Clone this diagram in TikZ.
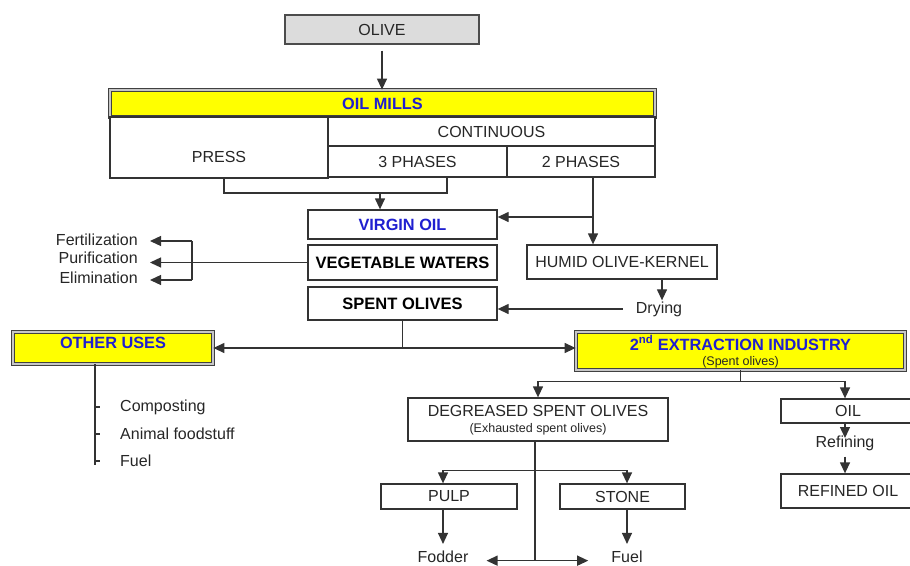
\documentclass[tikz,border=0pt]{standalone}
\usepackage{fontspec}
\setmainfont{Liberation Sans}
\usetikzlibrary{arrows.meta,calc}
\definecolor{ink}{HTML}{333333}
\definecolor{blu}{HTML}{1F1FD0}
\definecolor{yel}{HTML}{FFFF00}
\definecolor{olv}{HTML}{DCDCDC}
\begin{document}
\begin{tikzpicture}[x=1pt,y=-1pt,
  every node/.style={font=\fontsize{16}{18}\selectfont, text=black!85},
  box/.style={draw=ink, line width=1.3pt, inner sep=0pt, fill=white},
  ybox/.style={draw=black!75, line width=0.8pt, double=gray!45, double distance=1.8pt, fill=yel, inner sep=0pt},
  bl/.style={font=\fontsize{16.3}{18}\selectfont\bfseries, text=blu},
  bk/.style={font=\fontsize{16.5}{18}\selectfont\bfseries, text=black},
  small/.style={font=\fontsize{12.5}{14}\selectfont, text=black!85},
  txt/.style={inner sep=1pt},
  ln/.style={draw=ink, line width=1.3pt},
  arr/.style={ln, -{Triangle[length=11pt,width=10pt]}},
  arr2/.style={ln, {Triangle[length=11pt,width=10pt]}-{Triangle[length=11pt,width=10pt]}},
]
\useasboundingbox (0,0) rectangle (910,565);
\clip (0,0) rectangle (910,565);

% top
\node[box, fill=olv, draw=gray!60!black, minimum width=194pt, minimum height=29pt] (olive) at (382,29.5) {OLIVE};
\node[ybox, bl, minimum width=545pt, minimum height=27pt] (mills) at (382.5,103.5) {OIL MILLS};
\node[box, minimum width=218pt, minimum height=61pt] (press) at (219,147.5) {};
\node[txt] (presst) at (219,157) {PRESS};
\node[box, minimum width=327pt, minimum height=29pt] (cont) at (491.5,131.5) {CONTINUOUS};
\node[box, minimum width=179pt, minimum height=31pt] (three) at (417.5,161.5) {3 PHASES};
\node[box, minimum width=148pt, minimum height=31pt] (two) at (581,161.5) {2 PHASES};

% middle
\node[box, bl, minimum width=189pt, minimum height=29pt] (virgin) at (402.5,224.5) {VIRGIN OIL};
\node[box, bk, minimum width=189pt, minimum height=35pt] (veg) at (402.5,262.5) {VEGETABLE WATERS};
\node[box, bk, minimum width=189pt, minimum height=33pt] (spent) at (402.5,303.5) {SPENT OLIVES};
\node[box, minimum width=190pt, minimum height=34pt] (humid) at (622,262) {HUMID OLIVE-KERNEL};
\node[txt] (drying) at (659,309) {Drying};

\node[txt, anchor=east] (fert) at (139,240) {Fertilization};
\node[txt, anchor=east] (purif) at (139,258) {Purification};
\node[txt, anchor=east] (elim) at (139,278) {Elimination};

% other uses
\node[ybox, minimum width=200pt, minimum height=32pt] (other) at (113,348) {};
\node[bl] (othert) at (113,343) {OTHER USES};
\node[txt, anchor=west] (comp) at (119,407) {Composting};
\node[txt, anchor=west] (anim) at (119,434) {Animal foodstuff};
\node[txt, anchor=west] (fuela) at (119,461) {Fuel};

% second extraction
\node[ybox, minimum width=329pt, minimum height=38pt] (second) at (740.5,351) {};
\node[bl] (secondt) at (740.5,343) {2\textsuperscript{nd} EXTRACTION INDUSTRY};
\node[small] (seconds) at (740.5,362) {(Spent olives)};

\node[box, minimum width=260pt, minimum height=43pt] (degr) at (538,419.5) {};
\node[txt] (degrt) at (538,411) {DEGREASED SPENT OLIVES};
\node[small] (degrs) at (538,429) {(Exhausted spent olives)};

\node[box, minimum width=134pt, minimum height=24pt] (oil) at (848,411) {OIL};
\node[txt] (refining) at (845,443) {Refining};
\node[box, minimum width=134pt, minimum height=34pt] (refined) at (848,491) {REFINED OIL};

\node[box, minimum width=136pt, minimum height=25pt] (pulp) at (449,496.5) {PULP};
\node[box, minimum width=125pt, minimum height=25pt] (stone) at (622.5,496.5) {STONE};
\node[txt] (fodder) at (443,557) {Fodder};
\node[txt] (fuelb) at (627,557) {Fuel};

% connectors
\draw[arr, shorten <=6pt] (olive.south) -- (olive.south |- mills.north);
\coordinate (j1) at (380,193);
\draw[ln] ([xshift=5pt]press.south) |- (j1) -| ([xshift=29.5pt]three.south);
\draw[arr] (j1) -- (j1 |- virgin.north);
\draw[arr] ([xshift=12pt]two.south) -- ([xshift=12pt]two.south |- humid.north);
\coordinate (j2) at (593,217);
\draw[arr] (j2) -- (j2 -| virgin.east);
\draw[arr] ([xshift=40pt]humid.south) -- ([xshift=40pt]humid.south |- drying.north);
\draw[arr, shorten <=12pt] (drying.west) -- (drying.west -| spent.east);

\draw[arr, shorten >=11pt] (veg.west) -- (veg.west -| purif.east);
\coordinate (f1) at (192,241);
\coordinate (f2) at (192,280);
\draw[ln] (f1) -- (f2);
\draw[arr, shorten >=11pt] (f1) -- (f1 -| fert.east);
\draw[arr, shorten >=11pt] (f2) -- (f2 -| elim.east);

\draw[ln] (spent.south) -- (spent.south |- other.east);
\draw[arr2] (other.east) -- (other.east -| second.west);

\draw[ln] ([xshift=-18pt]other.south) -- ++(0,101);
\foreach \n in {comp,anim,fuela}
  \draw[ln] ([xshift=-18pt]other.south |- \n.west) -- ++(5,0);

\draw[ln] (second.south) -- ++(0,11) coordinate (j4);
\draw[arr] (j4) -| (degr.north);
\draw[arr] (j4) -| ([xshift=-3pt]oil.north);
\draw[arr] ([xshift=-3pt]oil.south) -- ([yshift=5pt]refining.center);
\draw[arr, shorten <=5pt] (refining.south) -- (refining.south |- refined.north);

\path ([xshift=-3pt]degr.south) ++(0,29) coordinate (j5);
\draw[ln] ([xshift=-3pt]degr.south) -- ++(0,119) coordinate (j6);
\draw[arr] (j5) -| ([xshift=-6pt]pulp.north);
\draw[arr] (j5) -| ([xshift=4.5pt]stone.north);
\draw[arr, shorten >=6pt] ([xshift=-6pt]pulp.south) -- ([xshift=-6pt]pulp.south |- fodder.north);
\draw[arr, shorten >=6pt] ([xshift=4.5pt]stone.south) -- ([xshift=4.5pt]stone.south |- fuelb.north);
\draw[arr, shorten >=17pt] (j6) -- (j6 -| fodder.east);
\draw[arr, shorten >=22pt] (j6) -- (j6 -| fuelb.west);
\end{tikzpicture}
\end{document}
